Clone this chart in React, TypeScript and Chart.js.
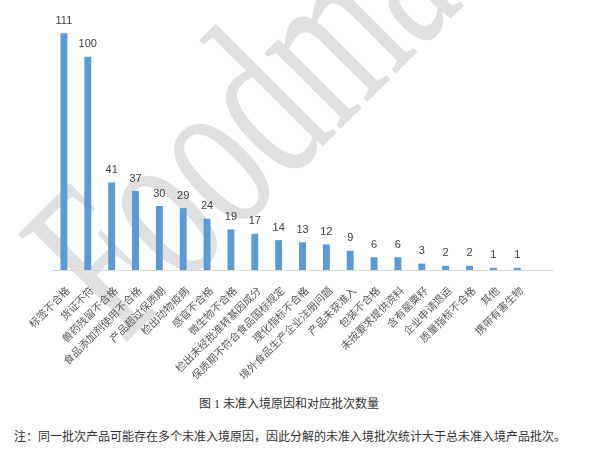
import React, { useEffect, useRef } from "react";
import { Chart, registerables } from "chart.js";

Chart.register(...registerables);

const categories: string[] = [
  "标签不合格",
  "货证不符",
  "兽药残留不合格",
  "食品添加剂使用不合格",
  "产品超过保质期",
  "检出动物疫病",
  "感官不合格",
  "微生物不合格",
  "检出未经批准转基因成分",
  "保质期不符合食品国标规定",
  "理化指标不合格",
  "境外食品生产企业注册问题",
  "产品未获准入",
  "包装不合格",
  "未按要求提供资料",
  "含有罂粟籽",
  "企业申请退运",
  "质量指标不合格",
  "其他",
  "携带有害生物",
  "",
];

const batchCounts: (number | null)[] = [
  111, 100, 41, 37, 30, 29, 24, 19, 17, 14, 13, 12, 9, 6, 6, 3, 2, 2, 1, 1, null,
];

const captionText = "图 1  未准入境原因和对应批次数量";
const noteText =
  "注：同一批次产品可能存在多个未准入境原因，因此分解的未准入境批次统计大于总未准入境产品批次。";
const watermarkText = "Foodmate";

const valueLabels = {
  id: "valueLabels",
  afterDatasetsDraw(chart: any) {
    const ctx = chart.ctx;
    const meta = chart.getDatasetMeta(0);
    const data = chart.data.datasets[0].data;
    ctx.save();
    ctx.font = "11px 'Liberation Sans', Arial, sans-serif";
    ctx.fillStyle = "#404040";
    ctx.textAlign = "center";
    ctx.textBaseline = "middle";
    meta.data.forEach((el: any, i: number) => {
      const v = data[i];
      if (v == null) return;
      ctx.fillText(String(v), el.x, el.y - 12.5);
    });
    ctx.restore();
  },
};

function BarChart() {
  const ref = useRef<HTMLCanvasElement | null>(null);
  useEffect(() => {
    if (!ref.current) return;
    const chart = new Chart(ref.current, {
      type: "bar",
      data: {
        labels: categories,
        datasets: [
          {
            data: batchCounts as any,
            backgroundColor: "#5B9BD5",
            borderWidth: 0,
            barPercentage: 0.29,
            categoryPercentage: 1,
          },
        ],
      },
      options: {
        responsive: false,
        animation: false,
        layout: { padding: { left: 52, right: 36, top: 14, bottom: 0 } },
        plugins: {
          legend: { display: false },
          tooltip: { enabled: false },
          title: { display: false },
        },
        scales: {
          y: {
            display: false,
            min: 0,
            max: 120,
          },
          x: {
            grid: { display: false, drawTicks: false },
            border: { display: true, color: "#D9D9D9", width: 1 },
            ticks: {
              autoSkip: false,
              maxRotation: 45,
              minRotation: 45,
              padding: 14,
              labelOffset: 4,
              color: "#595959",
              font: { family: "'Noto Sans CJK SC', sans-serif", size: 10.5 },
            },
            afterFit: (scale: any) => {
              scale.height = 110;
            },
          },
        },
      },
      plugins: [valueLabels],
    });
    return () => chart.destroy();
  }, []);
  return (
    <canvas
      ref={ref}
      width={589}
      height={380}
      style={{ position: "absolute", left: 0, top: 0, width: 589, height: 380, zIndex: 1 }}
    />
  );
}

export default function App() {
  return (
    <div
      style={{
        position: "fixed",
        left: 0,
        top: 0,
        width: 589,
        height: 460,
        overflow: "hidden",
        background: "#ffffff",
      }}
    >
      <div
        style={{
          position: "absolute",
          left: -15,
          top: 207,
          transformOrigin: "0 0",
          transform: "rotate(-45deg) scale(0.63, 1)",
          whiteSpace: "nowrap",
          fontFamily: "'Liberation Serif', serif",
          fontSize: 234,
          lineHeight: 1,
          color: "#e0e0e0",
          zIndex: 0,
        }}
      >
        {watermarkText}
      </div>
      <BarChart />
      <div
        style={{
          position: "absolute",
          left: 199,
          top: 396,
          fontFamily: "'Liberation Serif', 'Noto Sans CJK SC', serif",
          fontSize: 12,
          lineHeight: "16px",
          color: "#333333",
          whiteSpace: "nowrap",
          zIndex: 2,
        }}
      >
        {captionText}
      </div>
      <div
        style={{
          position: "absolute",
          left: 14,
          top: 429,
          fontFamily: "'Liberation Serif', 'Noto Sans CJK SC', serif",
          fontSize: 12,
          lineHeight: "16px",
          color: "#333333",
          whiteSpace: "nowrap",
          zIndex: 2,
        }}
      >
        {noteText}
      </div>
    </div>
  );
}
